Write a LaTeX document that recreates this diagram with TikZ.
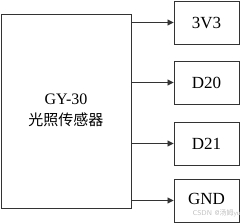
\documentclass[tikz,border=0pt]{standalone}
\usepackage{fontspec}
\setmainfont{Liberation Serif}
\newfontfamily\cjk{Noto Sans CJK SC}
\usetikzlibrary{arrows.meta}
\begin{document}
\begin{tikzpicture}[x=1pt,y=-1pt,
  box/.style={draw=black!80,line width=0.9pt,inner sep=0pt},
  pinbox/.style={box,minimum width=65pt,minimum height=43pt,font=\fontsize{17}{19}\selectfont},
  conn/.style={draw=black!80,line width=0.9pt,-{Triangle[length=6pt,width=6pt]}}]
\useasboundingbox (0,0) rectangle (242,223);
\node[box,minimum width=130.5pt,minimum height=194pt] (main) at (66.3,111) {};
\node[align=center,font=\fontsize{16}{21}\selectfont] (lbl) at (66,110) {GY-30\\{\cjk\fontsize{15}{18}\selectfont 光照传感器}};
\node[pinbox] (p1) at (206.5,22.5) {3V3};
\node[pinbox] (p2) at (206.5,82.5) {D20};
\node[pinbox] (p3) at (206.5,143.5) {D21};
\node[pinbox,text depth=3pt] (p4) at (206.5,200.5) {GND};
\draw[conn] (main.east |- p1.west) -- (p1.west);
\draw[conn] (main.east |- p2.west) -- (p2.west);
\draw[conn] (main.east |- p3.west) -- (p3.west);
\draw[conn] (main.east |- p4.west) -- (p4.west);
\node[text=black!25,font=\sffamily\fontsize{7}{8}\selectfont,anchor=east,inner sep=0pt] (wm) at (241,213) {CSDN @{\cjk 汤姆}yu};
\end{tikzpicture}
\end{document}
